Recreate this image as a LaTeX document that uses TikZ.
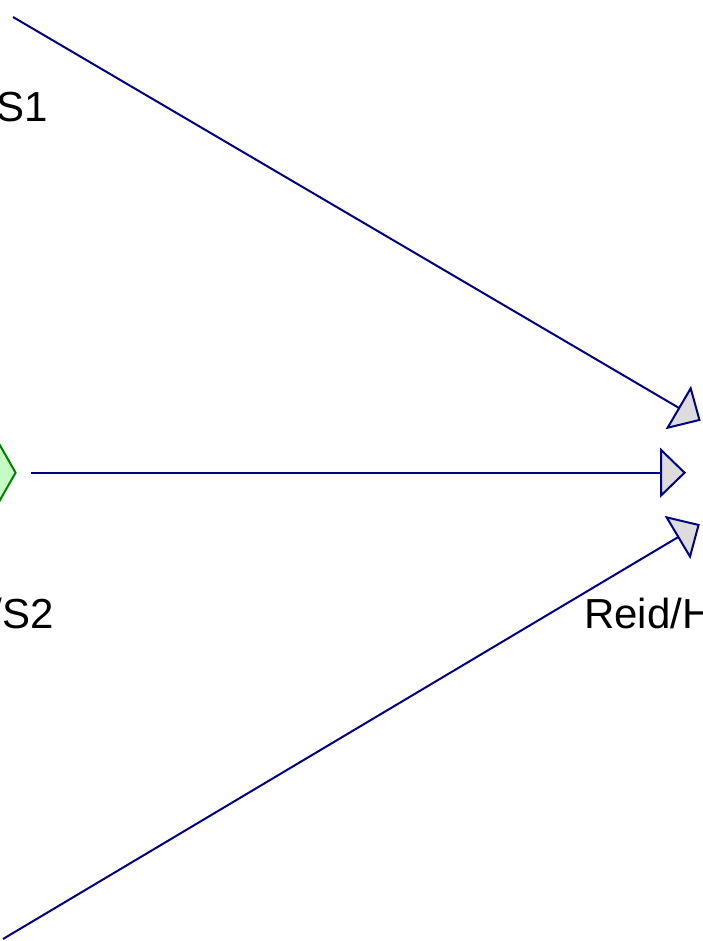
\documentclass[tikz,border=0pt]{standalone}
\usepackage{fontspec}
\setmainfont{Liberation Sans}
\usetikzlibrary{arrows.meta,shapes.geometric}
\definecolor{navyline}{HTML}{000080}
\definecolor{tipfill}{HTML}{DCDCDC}
\definecolor{greenline}{HTML}{008000}
\definecolor{greenfill}{HTML}{C4FCC4}
\tikzset{
  conn/.style={draw=navyline, line width=2pt,
    -{Triangle[length=26pt,width=50pt,fill=tipfill]}},
  lbl/.style={font=\fontsize{42}{50}\selectfont, inner sep=0pt},
  gnode/.style={diamond, draw=greenline, fill=greenfill, line width=2pt,
    minimum width=112pt, minimum height=196pt, inner sep=0pt}
}
\begin{document}
\begin{tikzpicture}[x=1pt,y=-1pt]
\useasboundingbox (0,0) rectangle (703,941);
\clip (0,0) rectangle (703,941);
% source end points (nodes off the visible area)
\coordinate (s1) at (13,17);
\coordinate (s3) at (3,939);
\node[gnode] (s2) at (-40,472.7) {};
\coordinate (s2out) at (31,472.7);
% target tips (node beyond the right edge)
\coordinate (t1) at (700.7,420.7);
\coordinate (t2) at (686,472.7);
\coordinate (t3) at (699.8,524.2);
% labels
\node[lbl, anchor=base east] (l1) at (48,122) {S1};
\node[lbl, anchor=base east] (l2) at (54,628) {/S2};
\node[lbl, anchor=base west] (l3) at (584,628) {Reid/H};
% connectors
\draw[conn] (s1) -- (t1);
\draw[conn] (s2out) -- (t2);
\draw[conn] (s3) -- (t3);
\end{tikzpicture}
\end{document}
